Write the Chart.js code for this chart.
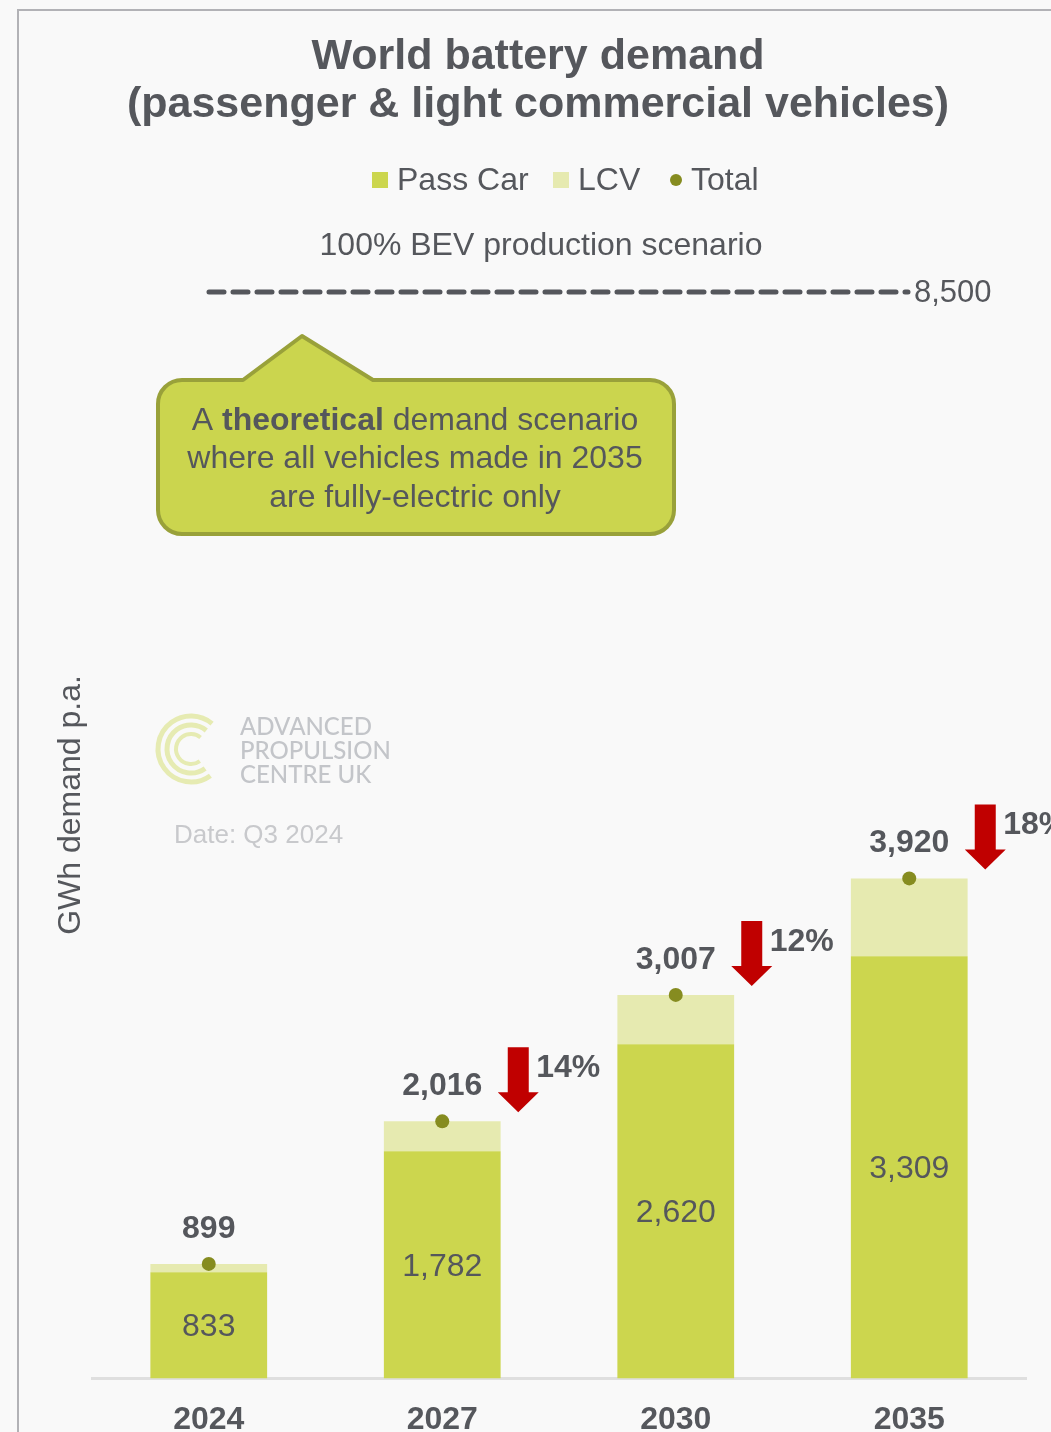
<!DOCTYPE html>
<html>
<head>
<meta charset="utf-8">
<title>World battery demand</title>
<script src="https://cdn.jsdelivr.net/npm/chart.js@4.4.1/dist/chart.umd.min.js"></script>
<style>
  html, body { margin: 0; padding: 0; background: #f9f9f9; }
  #wrap { width: 1051px; height: 1432px; overflow: hidden; }
</style>
</head>
<body>
<div id="wrap"><canvas id="demandChart" width="1051" height="1461"></canvas></div>
<script>
// GWh per year
const years = ['2024', '2027', '2030', '2035'];
const passCar = [833, 1782, 2620, 3309];
const lcv = [66, 234, 387, 611];
const totals = [899, 2016, 3007, 3920];
// drop vs. previous forecast, shown with a red arrow (null = none)
const drops = [null, 14, 12, 18];
const bevScenario = 8500;

const TEXT = '#55575c';
const FONT = '"Liberation Sans", Arial, sans-serif';

const fmt = v => v.toLocaleString('en-US');

// everything around the bars: frame, heading, legend, callout, labels, arrows
const decorations = {
    id: 'decorations',
    beforeDraw(chart) {
        const ctx = chart.ctx;
        ctx.save();
        ctx.fillStyle = '#f9f9f9';
        ctx.fillRect(0, 0, chart.width, chart.height);
        ctx.strokeStyle = '#b2b2b6';
        ctx.lineWidth = 2;
        ctx.beginPath();
        ctx.moveTo(18, chart.height);
        ctx.lineTo(18, 10);
        ctx.lineTo(chart.width, 10);
        ctx.stroke();
        ctx.restore();
    },
    afterDraw(chart) {
        const ctx = chart.ctx;
        const x = chart.scales.x;
        const y = chart.scales.y;
        ctx.save();
        ctx.textAlign = 'center';
        ctx.textBaseline = 'middle';

        // heading
        ctx.fillStyle = TEXT;
        ctx.font = 'bold 43px ' + FONT;
        ctx.fillText('World battery demand', 538, 57);
        ctx.fillText('(passenger & light commercial vehicles)', 538, 105);

        // legend
        ctx.font = '32px ' + FONT;
        ctx.textAlign = 'left';
        ctx.fillStyle = '#ccd64e';
        ctx.fillRect(372, 172, 16, 16);
        ctx.fillStyle = TEXT;
        ctx.fillText('Pass Car', 397, 181);
        ctx.fillStyle = '#e6eab0';
        ctx.fillRect(553, 172, 16, 16);
        ctx.fillStyle = TEXT;
        ctx.fillText('LCV', 578, 181);
        ctx.fillStyle = '#868c20';
        ctx.beginPath();
        ctx.arc(676, 180, 6, 0, Math.PI * 2);
        ctx.fill();
        ctx.fillStyle = TEXT;
        ctx.fillText('Total', 691, 181);

        // 100% BEV scenario line
        ctx.textAlign = 'center';
        ctx.font = '32px ' + FONT;
        ctx.fillText('100% BEV production scenario', 541, 246);
        const yb = y.getPixelForValue(bevScenario) - 2;
        ctx.strokeStyle = TEXT;
        ctx.lineWidth = 5;
        ctx.lineCap = 'round';
        ctx.setLineDash([15, 9]);
        ctx.beginPath();
        ctx.moveTo(209, yb);
        ctx.lineTo(908, yb);
        ctx.stroke();
        ctx.setLineDash([]);
        ctx.textAlign = 'left';
        ctx.font = '31px ' + FONT;
        ctx.fillText(fmt(bevScenario), 914, yb + 1);

        // callout
        ctx.fillStyle = '#cbd54e';
        ctx.strokeStyle = '#99a13a';
        ctx.lineWidth = 4;
        ctx.lineJoin = 'round';
        const bx = 158, by = 380, bw = 516, bh = 154, r = 24;
        ctx.beginPath();
        ctx.moveTo(bx + r, by);
        ctx.lineTo(243, by);
        ctx.lineTo(302, 336);
        ctx.lineTo(373, by);
        ctx.lineTo(bx + bw - r, by);
        ctx.arcTo(bx + bw, by, bx + bw, by + r, r);
        ctx.lineTo(bx + bw, by + bh - r);
        ctx.arcTo(bx + bw, by + bh, bx + bw - r, by + bh, r);
        ctx.lineTo(bx + r, by + bh);
        ctx.arcTo(bx, by + bh, bx, by + bh - r, r);
        ctx.lineTo(bx, by + r);
        ctx.arcTo(bx, by, bx + r, by, r);
        ctx.closePath();
        ctx.fill();
        ctx.stroke();

        ctx.fillStyle = TEXT;
        const fs = 32;
        const l1a = 'A ', l1b = 'theoretical', l1c = ' demand scenario';
        ctx.font = fs + 'px ' + FONT;
        const wa = ctx.measureText(l1a).width, wc = ctx.measureText(l1c).width;
        ctx.font = 'bold ' + fs + 'px ' + FONT;
        const wb = ctx.measureText(l1b).width;
        let sx = 415 - (wa + wb + wc) / 2;
        ctx.textAlign = 'left';
        ctx.font = fs + 'px ' + FONT;
        ctx.fillText(l1a, sx, 421);
        ctx.font = 'bold ' + fs + 'px ' + FONT;
        ctx.fillText(l1b, sx + wa, 421);
        ctx.font = fs + 'px ' + FONT;
        ctx.fillText(l1c, sx + wa + wb, 421);
        ctx.textAlign = 'center';
        ctx.fillText('where all vehicles made in 2035', 415, 459);
        ctx.fillText('are fully-electric only', 415, 498);

        // APC mark
        ctx.strokeStyle = '#e6ebb2';
        ctx.lineCap = 'butt';
        [[33, 5], [24, 5], [15, 4]].forEach(([rad, w]) => {
            ctx.lineWidth = w;
            ctx.beginPath();
            ctx.arc(191, 749, rad, Math.PI * 0.3, Math.PI * 1.72);
            ctx.stroke();
        });
        ctx.fillStyle = '#c3c5c9';
        ctx.textAlign = 'left';
        ctx.font = '500 24px Lato, ' + FONT;
        ctx.fillText('ADVANCED', 240, 727);
        ctx.fillText('PROPULSION', 240, 751);
        ctx.fillText('CENTRE UK', 240, 775);
        ctx.fillStyle = '#c8c9cc';
        ctx.font = '26px ' + FONT;
        ctx.fillText('Date: Q3 2024', 174, 836);

        // axis title
        ctx.save();
        ctx.translate(71, 805);
        ctx.rotate(-Math.PI / 2);
        ctx.textAlign = 'center';
        ctx.fillStyle = TEXT;
        ctx.font = '32px ' + FONT;
        ctx.fillText('GWh demand p.a.', 0, 0);
        ctx.restore();

        // value labels
        ctx.textAlign = 'center';
        years.forEach((yr, i) => {
            const cx = x.getPixelForValue(i);
            ctx.fillStyle = TEXT;
            ctx.font = '32px ' + FONT;
            const mid = (y.getPixelForValue(0) + y.getPixelForValue(passCar[i])) / 2;
            ctx.fillText(fmt(passCar[i]), cx, mid + 2);
            ctx.font = 'bold 32px ' + FONT;
            ctx.fillText(fmt(totals[i]), cx, y.getPixelForValue(totals[i]) - 35);
        });

        // red drop arrows
        drops.forEach((d, i) => {
            if (d === null) return;
            const ax = x.getPixelForValue(i) + 76;
            const tip = y.getPixelForValue(totals[i]) - 9;
            const top = tip - 65;
            ctx.fillStyle = '#c00000';
            ctx.beginPath();
            ctx.moveTo(ax - 10.5, top);
            ctx.lineTo(ax + 10.5, top);
            ctx.lineTo(ax + 10.5, tip - 20);
            ctx.lineTo(ax + 20.5, tip - 20);
            ctx.lineTo(ax, tip);
            ctx.lineTo(ax - 20.5, tip - 20);
            ctx.lineTo(ax - 10.5, tip - 20);
            ctx.closePath();
            ctx.fill();
            ctx.fillStyle = TEXT;
            ctx.font = 'bold 32px ' + FONT;
            ctx.textAlign = 'left';
            ctx.fillText(d + '%', ax + 18, top + 21);
            ctx.textAlign = 'center';
        });
        ctx.restore();
    }
};

const ctx = document.getElementById('demandChart').getContext('2d');
new Chart(ctx, {
    data: {
        labels: years,
        datasets: [
            {
                type: 'line',
                label: 'Total',
                data: totals,
                showLine: false,
                pointRadius: 7,
                pointHoverRadius: 7,
                pointBackgroundColor: '#868c20',
                pointBorderWidth: 0,
                order: 0
            },
            {
                type: 'bar',
                label: 'Pass Car',
                data: passCar,
                backgroundColor: '#ccd64e',
                order: 1
            },
            {
                type: 'bar',
                label: 'LCV',
                data: lcv,
                backgroundColor: '#e6eab0',
                order: 1
            }
        ]
    },
    options: {
        responsive: false,
        animation: false,
        layout: {
            padding: { top: 294, left: 92, right: 25, bottom: 0 }
        },
        plugins: {
            legend: { display: false },
            title: { display: false },
            tooltip: { enabled: false }
        },
        datasets: {
            bar: { categoryPercentage: 1, barPercentage: 0.5 }
        },
        scales: {
            x: {
                stacked: true,
                grid: { display: false, drawTicks: false },
                border: { display: true, color: '#dfdfdf', width: 3 },
                ticks: {
                    color: TEXT,
                    padding: 22,
                    font: { family: FONT, size: 32, weight: 'bold' }
                }
            },
            y: {
                stacked: true,
                display: false,
                min: 0,
                max: bevScenario
            }
        }
    },
    plugins: [decorations]
});
</script>
</body>
</html>
